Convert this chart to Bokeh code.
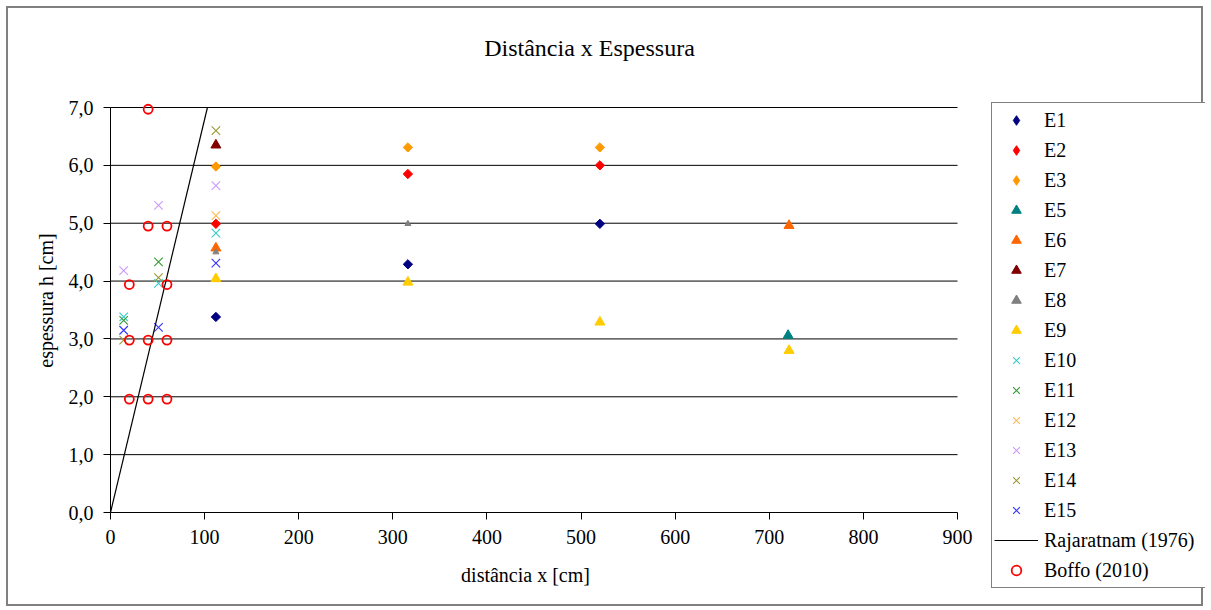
from bokeh.plotting import figure
from bokeh.models import Range1d, FixedTicker, Legend, LegendItem, Label
from bokeh.embed import file_html
from bokeh.resources import INLINE
import math

title_text = "Distância x Espessura"
x_label = "distância x [cm]"
y_label = "espessura h [cm]"

x_ticks = [0, 100, 200, 300, 400, 500, 600, 700, 800, 900]
y_ticks = [0, 1, 2, 3, 4, 5, 6, 7]
y_tick_labels = ["0,0", "1,0", "2,0", "3,0", "4,0", "5,0", "6,0", "7,0"]

e1_x = [112, 316, 520]
e1_y = [3.38, 4.29, 4.99]
e2_x = [112, 316, 520]
e2_y = [4.99, 5.85, 6.00]
e3_x = [112, 316, 520]
e3_y = [5.98, 6.31, 6.31]
e5_x = [720]
e5_y = [3.06]
e6_x = [112, 721]
e6_y = [4.57, 4.96]
e7_x = [112]
e7_y = [6.35]
e8_x = [112, 316]
e8_y = [4.50, 4.99]
e9_x = [112, 316, 520, 721]
e9_y = [4.04, 3.98, 3.29, 2.80]
e10_x = [14, 51, 112]
e10_y = [3.38, 3.96, 4.83]
e11_x = [14, 51]
e11_y = [3.32, 4.33]
e12_x = [112]
e12_y = [5.13]
e13_x = [14, 51, 112]
e13_y = [4.18, 5.31, 5.65]
e14_x = [14, 51, 112]
e14_y = [2.98, 4.06, 6.60]
e15_x = [14, 51, 112]
e15_y = [3.15, 3.20, 4.31]
raj_x = [0, 103]
raj_y = [0.0, 7.0]
boffo_x = [40, 40, 60, 20, 60, 20, 40, 60, 20, 40, 60]
boffo_y = [6.97, 4.95, 4.95, 3.94, 3.94, 2.98, 2.98, 2.98, 1.96, 1.96, 1.96]

FONT = "Liberation Serif"
W, H = 1197, 600
# where the data area sits on the canvas (pixels from the canvas top-left)
FRAME_L, FRAME_R, FRAME_T, FRAME_B = 102, 949, 99, 504

x0, x1 = x_ticks[0], x_ticks[-1]
y0, y1 = y_ticks[0], y_ticks[-1]
ppx = (FRAME_R - FRAME_L) / (x1 - x0)
ppy = (FRAME_B - FRAME_T) / (y1 - y0)
x_range = Range1d(x0 - FRAME_L / ppx, x1 + (W - FRAME_R) / ppx)
y_range = Range1d(y0 - (H - FRAME_B) / ppy, y1 + FRAME_T / ppy)

p = figure(width=W, height=H, output_backend="svg", toolbar_location=None,
           x_range=x_range, y_range=y_range,
           min_border=0, min_border_left=0, min_border_right=0,
           min_border_top=0, min_border_bottom=0)
p.styles = {"border": "2px solid #808080", "margin-left": "6px", "margin-top": "6px"}
p.outline_line_color = None
p.background_fill_color = "white"
p.border_fill_color = "white"
p.xgrid.visible = False
p.ygrid.visible = False

for ax in (p.xaxis[0], p.yaxis[0]):
    ax.fixed_location = 0
    ax.axis_line_color = "black"
    ax.axis_line_width = 1
    ax.major_tick_line_color = "black"
    ax.major_tick_in = 0
    ax.major_tick_out = 7
    ax.minor_tick_line_color = None
    ax.major_label_text_font = FONT
    ax.major_label_text_font_size = "20px"
    ax.major_label_text_color = "black"

p.xaxis.bounds = (x0, x1)
p.yaxis.bounds = (y0, y1)
p.xaxis.ticker = FixedTicker(ticks=x_ticks)
p.yaxis.ticker = FixedTicker(ticks=y_ticks)
p.yaxis.major_label_overrides = {t: l for t, l in zip(y_ticks, y_tick_labels)}
p.xaxis.major_label_standoff = 10
p.yaxis.major_label_standoff = 10

# horizontal grid lines, limited to the x axis extent
p.segment(x0=[x0] * (len(y_ticks) - 1), x1=[x1] * (len(y_ticks) - 1),
          y0=y_ticks[1:], y1=y_ticks[1:], line_color="black", line_width=1)

DIA = math.pi / 4
series = [
    ("E1", e1_x, e1_y, "diamond", "#000080", 6.6, 1),
    ("E2", e2_x, e2_y, "diamond", "#FF0000", 6.6, 1),
    ("E3", e3_x, e3_y, "diamond", "#FF9900", 6.6, 1),
    ("E5", e5_x, e5_y, "triangle", "#008080", 10, 1),
    ("E6", e6_x, e6_y, "triangle", "#FF6600", 10, 1),
    ("E7", e7_x, e7_y, "triangle", "#800000", 10, 1),
    ("E8", e8_x, e8_y, "triangle", "#808080", 6, 1),
    ("E9", e9_x, e9_y, "triangle", "#FFCC00", 10, 1),
    ("E10", e10_x, e10_y, "x", "#33CCCC", 12, 1.1),
    ("E11", e11_x, e11_y, "x", "#339933", 12, 1.1),
    ("E12", e12_x, e12_y, "x", "#FFB84D", 12, 1.1),
    ("E13", e13_x, e13_y, "x", "#CC99FF", 12, 1.1),
    ("E14", e14_x, e14_y, "x", "#999933", 12, 1.1),
    ("E15", e15_x, e15_y, "x", "#3333FF", 12, 1.1),
]

items = []
for name, xs, ys, marker, color, size, lw in series:
    if marker == "x":
        r = p.scatter(xs, ys, marker=marker, size=size, line_color=color, line_width=lw)
    elif marker == "diamond":
        # diamond glyph (used by the legend) under an Excel-style square turned 45 degrees
        r = p.scatter(xs, ys, marker="diamond", size=size, fill_color=color,
                      line_color=color, line_width=lw)
        p.scatter(xs, ys, marker="square", size=size, fill_color=color, line_color=color,
                  angle=DIA, line_width=lw)
    else:
        r = p.scatter(xs, ys, marker=marker, size=size, fill_color=color, line_color=color,
                      line_width=lw)
    items.append(LegendItem(label=name, renderers=[r]))

r_raj = p.line(raj_x, raj_y, line_color="black", line_width=1.2)
items.append(LegendItem(label="Rajaratnam (1976)", renderers=[r_raj]))
r_bof = p.scatter(boffo_x, boffo_y, marker="circle", size=9, fill_color=None,
                  line_color="#FF0000", line_width=1.8)
items.append(LegendItem(label="Boffo (2010)", renderers=[r_bof]))

legend = Legend(items=items, location=(983, 20), padding=2, spacing=0,
                glyph_width=44, glyph_height=24, label_height=30, label_width=168,
                label_standoff=6, label_text_font=FONT, label_text_font_size="20px",
                label_text_color="black", border_line_color="black", border_line_width=1,
                background_fill_color="white", background_fill_alpha=1, margin=0)
p.add_layout(legend, "center")

p.add_layout(Label(x=581, y=561, x_units="screen", y_units="screen", text=title_text,
                   text_align="center", text_baseline="middle", text_font=FONT,
                   text_font_size="24px", text_color="black"))
p.add_layout(Label(x=517, y=34, x_units="screen", y_units="screen", text=x_label,
                   text_align="center", text_baseline="middle", text_font=FONT,
                   text_font_size="20px", text_color="black"))
p.add_layout(Label(x=37, y=308, x_units="screen", y_units="screen", text=y_label,
                   angle=math.pi / 2, text_align="center", text_baseline="middle",
                   text_font=FONT, text_font_size="20px", text_color="black"))

open("out.html", "w").write(file_html(p, INLINE))
